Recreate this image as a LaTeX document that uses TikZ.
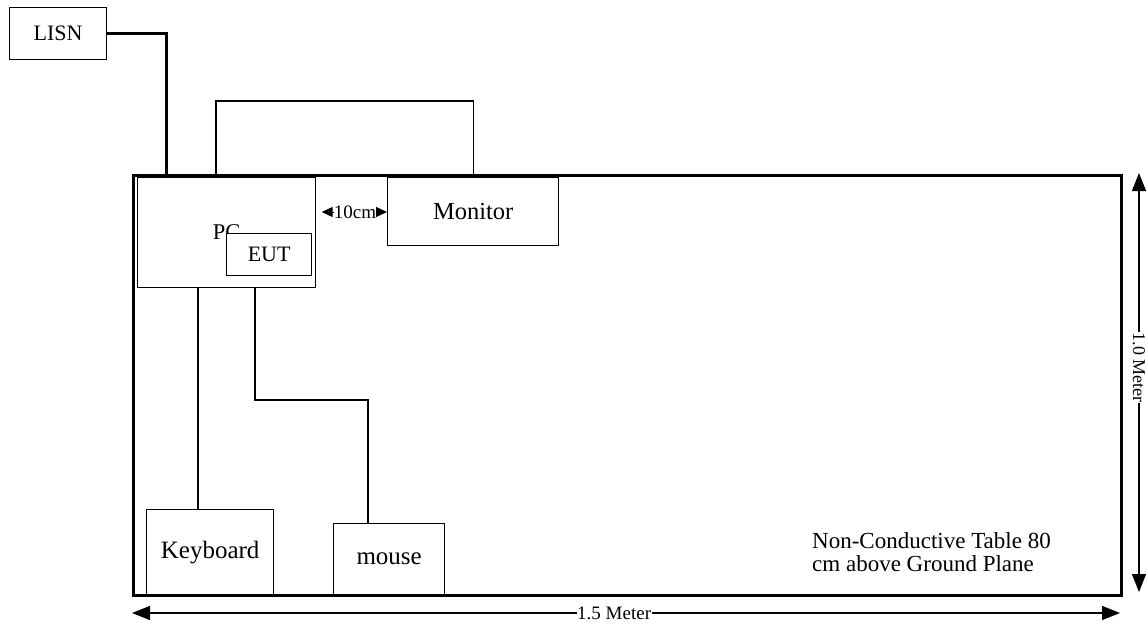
\documentclass[tikz,border=0pt]{standalone}
\usepackage{fontspec}
\setmainfont{Liberation Serif}
\usetikzlibrary{arrows.meta}
\begin{document}
\begin{tikzpicture}[x=1pt,y=-1pt,
  box/.style={draw, line width=1.3pt, inner sep=0pt, anchor=north west, align=center},
  fs/.style={font=\fontsize{#1}{#1}\selectfont},
  wire/.style={line width=1.3pt},
  heavywire/.style={line width=3pt},
  dimarrow/.style={line width=1.3pt, {Triangle[length=18pt,width=14pt]}-{Triangle[length=18pt,width=14pt]}},
  smalltip/.style={line width=1pt, -{Triangle[length=11pt,width=10pt]}},
]
\useasboundingbox (0,0) rectangle (1148,625);

% boxes
\node[box, fs=22, minimum width=97pt, minimum height=52pt] (lisn) at (9,7) {LISN};
\node[box, fs=22.5, minimum width=178pt, minimum height=110pt] (pc) at (137,177) {PC};
\node[box, fs=22, fill=white, minimum width=85pt, minimum height=42pt] (eut) at (226,233) {EUT};
\node[box, fs=24.5, minimum width=171pt, minimum height=68pt] (mon) at (387,177) {Monitor};
\node[box, fs=25, minimum width=127pt, minimum height=85pt] (kb) at (146,509) {Keyboard};
\node[box, fs=25, minimum width=111pt, minimum height=71pt] (mouse) at (333,523) {mouse};

% table
\node[box, line width=3pt, minimum width=988pt, minimum height=420pt] (table) at (132,174) {};

% helper coordinates
\coordinate (lisnpt) at (166,174);
\coordinate (moncab) at (216,101);
\coordinate (kbx) at (198,0);
\coordinate (msx) at (255,400);
\coordinate (msy) at (368,400);

% cables
\draw[heavywire] (lisn.east) -| (lisnpt);
\draw[wire] (moncab |- pc.north) -- (moncab) -| (mon.north);
\draw[wire] (pc.south -| kbx) -- (kb.north -| kbx);
\draw[wire] (pc.south -| msx) -- (msx) -- (msy) -- (mouse.north -| msy);

% 10cm
\node[fs=19, inner sep=0pt] (ten) at (355,212) {10cm};
\draw[smalltip] (ten.west) -- ++(-12,0);
\draw[smalltip] (ten.east) -- (ten.east -| mon.west);

% note
\node[font=\fontsize{23}{23.5}\selectfont, anchor=north west, align=left, inner sep=0pt] (note) at (812,532)
  {Non-Conductive Table 80\\cm above Ground Plane};

% dimensions
\coordinate (h1) at (132,613);
\coordinate (h2) at (1120,613);
\coordinate (v1) at (1139,173);
\coordinate (v2) at (1139,592);
\draw[dimarrow] (h1) -- node[pos=0.488, fill=white, fs=19, inner sep=0.5pt] (hlab) {1.5 Meter} (h2);
\draw[dimarrow] (v1) -- node[pos=0.465, fill=white, rotate=-90, fs=18, inner sep=0.5pt] (vlab) {1.0 Meter} (v2);
\end{tikzpicture}
\end{document}
